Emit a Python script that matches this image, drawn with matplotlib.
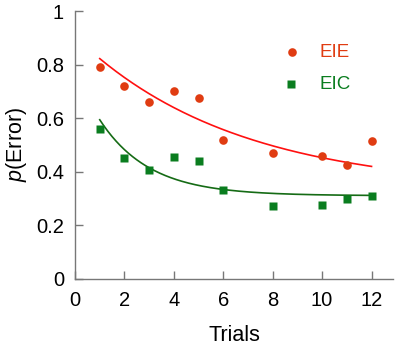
import numpy as np
import matplotlib
matplotlib.use("Agg")
import matplotlib.pyplot as plt

plt.rcParams['font.family'] = ['Liberation Sans', 'DejaVu Sans']
plt.rcParams['mathtext.fontset'] = 'custom'
plt.rcParams['mathtext.rm'] = 'Liberation Sans'
plt.rcParams['mathtext.it'] = 'Liberation Sans:italic'

# ===================== data =====================
trials = [1, 2, 3, 4, 5, 6, 8, 10, 11, 12]
eie = [0.79, 0.72, 0.66, 0.70, 0.677, 0.518, 0.47, 0.46, 0.425, 0.514]
eic = [0.558, 0.45, 0.406, 0.456, 0.44, 0.331, 0.273, 0.277, 0.299, 0.308]

# exponential fits a + b*exp(-k*x)
eie_fit = (0.330, 0.575, 0.155)
eic_fit = (0.310, 0.468, 0.50)

xticks = [0, 2, 4, 6, 8, 10, 12]
yticks = [0, 0.2, 0.4, 0.6, 0.8, 1]
ytick_labels = ["0", "0.2", "0.4", "0.6", "0.8", "1"]

C_EIE = "#e03c12"
C_EIE_LINE = "#ff1010"
C_EIC = "#0a7d1f"
C_EIC_LINE = "#156b15"
SPINE = "#777777"

fig = plt.figure(figsize=(3.97, 3.47), dpi=100)
ax = fig.add_axes([0.189, 0.197, 0.801, 0.771])

xs = np.linspace(trials[0], trials[-1], 200)
a, b, k = eie_fit
ax.plot(xs, a + b * np.exp(-k * xs), color=C_EIE_LINE, lw=1.2)
a, b, k = eic_fit
ax.plot(xs, a + b * np.exp(-k * xs), color=C_EIC_LINE, lw=1.2)

ax.plot(trials, eie, 'o', color=C_EIE, ms=6.2, mec='none')
ax.plot(trials, eic, 's', color=C_EIC, ms=5.8, mec='none')

# legend drawn by hand as in the original
ax.plot([8.77], [0.846], 'o', color=C_EIE, ms=6.2, mec='none', clip_on=False)
ax.plot([8.73], [0.727], 's', color=C_EIC, ms=5.8, mec='none', clip_on=False)
ax.text(9.9, 0.846, "EIE", color=C_EIE, fontsize=13.5, va='center', ha='left')
ax.text(9.9, 0.727, "EIC", color=C_EIC, fontsize=13.5, va='center', ha='left')

ax.set_xlim(0, 12.87)
ax.set_ylim(0, 1)
ax.set_xticks(xticks)
ax.set_yticks(yticks)
ax.set_yticklabels(ytick_labels)
ax.tick_params(direction='in', length=5.5, width=1, color=SPINE,
               labelsize=14.5)
ax.tick_params(axis='x', pad=9)
ax.tick_params(axis='y', pad=8)

for side in ['top', 'right']:
    ax.spines[side].set_visible(False)
for side in ['left', 'bottom']:
    ax.spines[side].set_color(SPINE)
    ax.spines[side].set_linewidth(1)

ax.set_xlabel("Trials", fontsize=15.5, labelpad=10.5)
ax.set_ylabel(r"$p$(Error)", fontsize=15.5, labelpad=5)

fig.savefig("out.png", dpi=100)
